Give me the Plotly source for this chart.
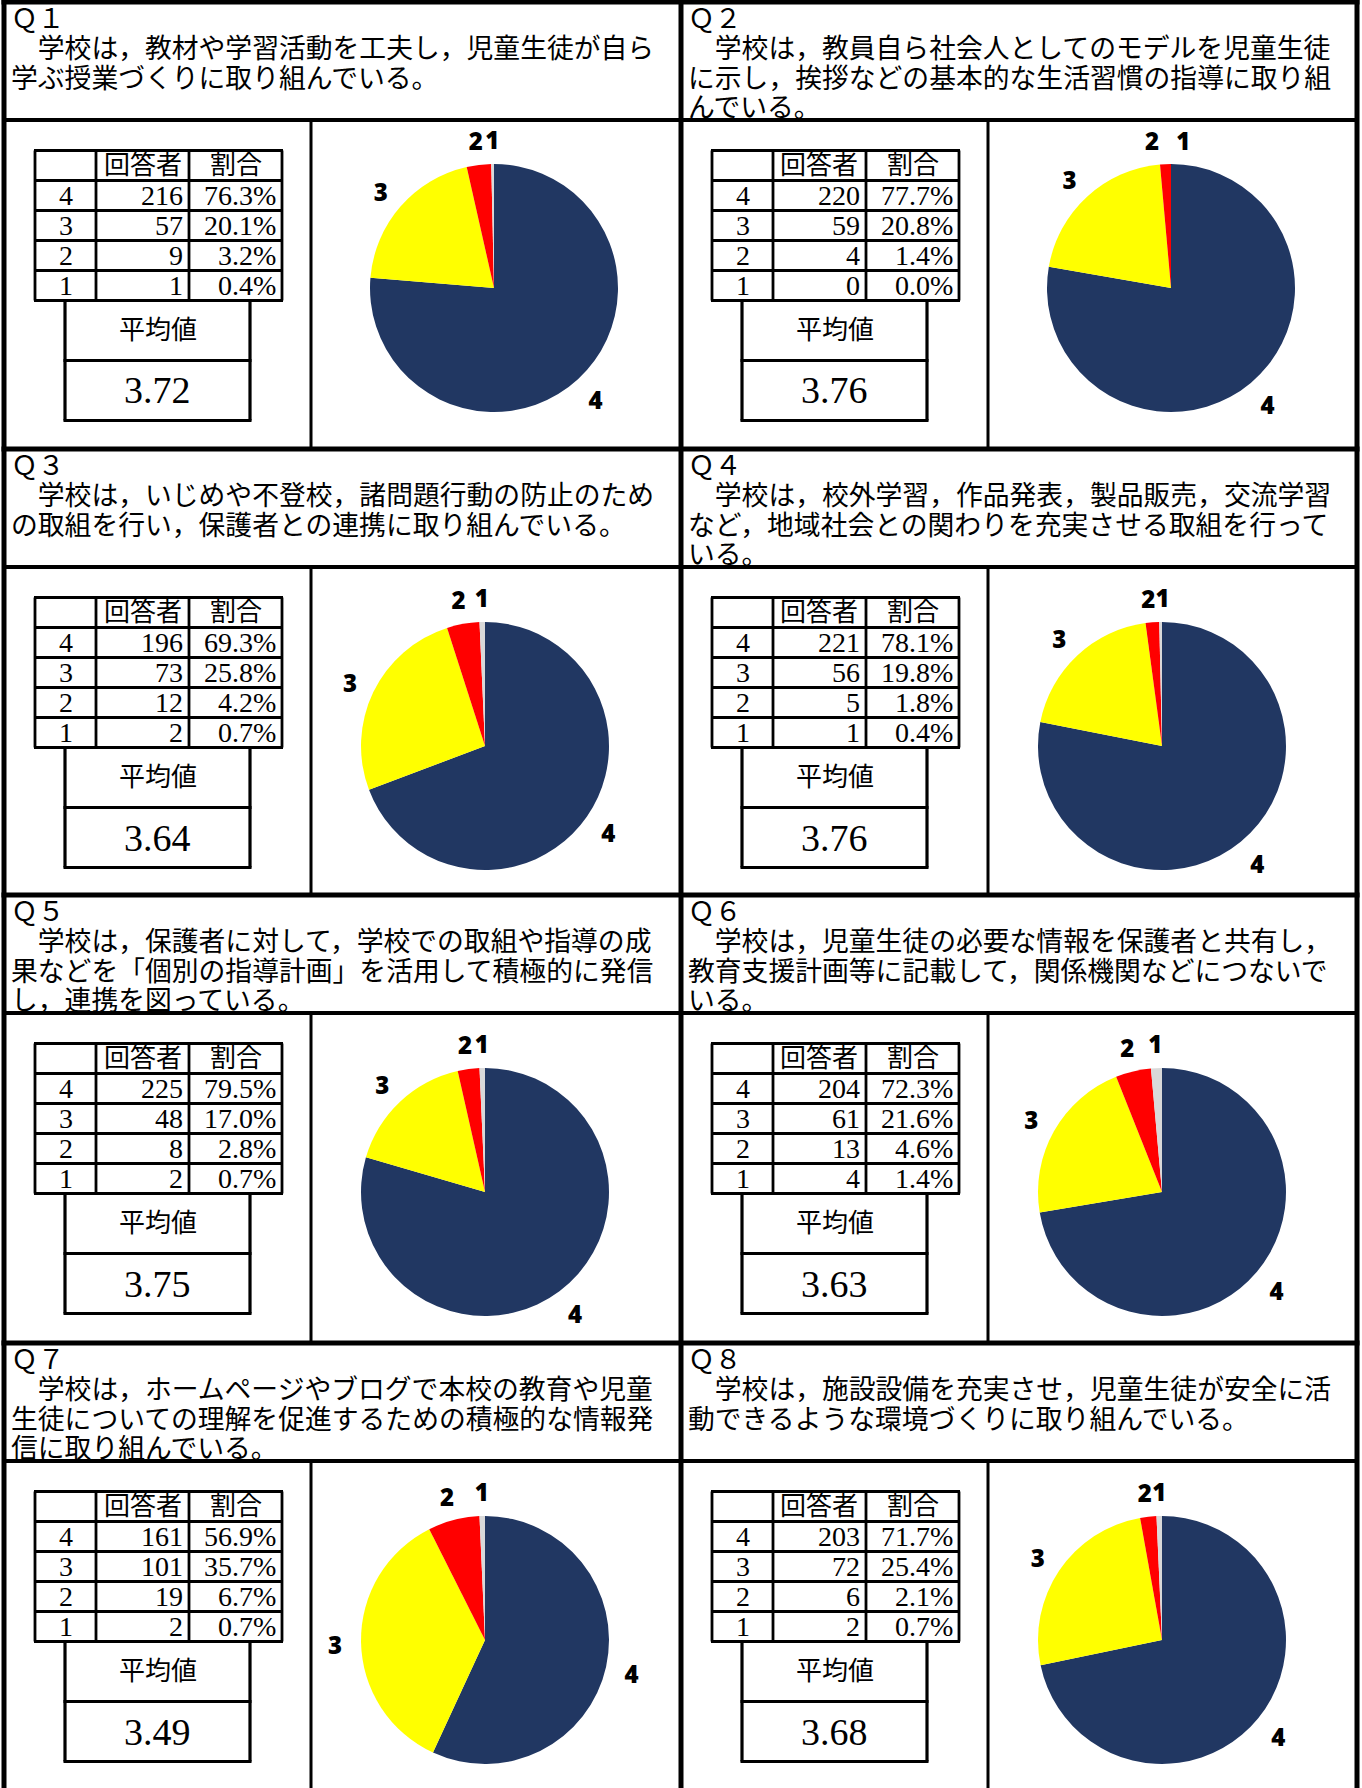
import math
import plotly.graph_objects as go

# ---------------- data ----------------
QUESTION_IDS = ["Ｑ１", "Ｑ２", "Ｑ３", "Ｑ４", "Ｑ５", "Ｑ６", "Ｑ７", "Ｑ８"]
QUESTION_LINES = [
    ["　学校は，教材や学習活動を工夫し，児童生徒が自ら",
     "学ぶ授業づくりに取り組んでいる。"],
    ["　学校は，教員自ら社会人としてのモデルを児童生徒",
     "に示し，挨拶などの基本的な生活習慣の指導に取り組",
     "んでいる。"],
    ["　学校は，いじめや不登校，諸問題行動の防止のため",
     "の取組を行い，保護者との連携に取り組んでいる。"],
    ["　学校は，校外学習，作品発表，製品販売，交流学習",
     "など，地域社会との関わりを充実させる取組を行って",
     "いる。"],
    ["　学校は，保護者に対して，学校での取組や指導の成",
     "果などを「個別の指導計画」を活用して積極的に発信",
     "し，連携を図っている。"],
    ["　学校は，児童生徒の必要な情報を保護者と共有し，",
     "教育支援計画等に記載して，関係機関などにつないで",
     "いる。"],
    ["　学校は，ホームページやブログで本校の教育や児童",
     "生徒についての理解を促進するための積極的な情報発",
     "信に取り組んでいる。"],
    ["　学校は，施設設備を充実させ，児童生徒が安全に活",
     "動できるような環境づくりに取り組んでいる。"],
]
LEVELS = ["4", "3", "2", "1"]
COUNTS = [
    [216, 57, 9, 1],
    [220, 59, 4, 0],
    [196, 73, 12, 2],
    [221, 56, 5, 1],
    [225, 48, 8, 2],
    [204, 61, 13, 4],
    [161, 101, 19, 2],
    [203, 72, 6, 2],
]
PCTS = [
    [76.3, 20.1, 3.2, 0.4],
    [77.7, 20.8, 1.4, 0.0],
    [69.3, 25.8, 4.2, 0.7],
    [78.1, 19.8, 1.8, 0.4],
    [79.5, 17.0, 2.8, 0.7],
    [72.3, 21.6, 4.6, 1.4],
    [56.9, 35.7, 6.7, 0.7],
    [71.7, 25.4, 2.1, 0.7],
]
MEANS = [3.72, 3.76, 3.64, 3.76, 3.75, 3.63, 3.49, 3.68]
COL_HEADERS = ["", "回答者", "割合"]
MEAN_LABEL = "平均値"

# ---------------- style / layout ----------------
SLICE_COLORS = ["#213762", "#FFFF00", "#FF0000", "#D9D9D9"]
W, H = 1362, 1788
ROW_TOP = [2, 449, 895, 1343]
COL_X0 = [2, 679]
HEADER_H = 118
TEXT_FONT = "Liberation Serif, Noto Sans CJK JP, serif"
LABEL_FONT = "Open Sans, Lato, sans-serif"
R = 124          # pie radius (px)
LABEL_R = 150    # label ring radius (px)
LABEL_DY = 5     # visual baseline correction for digits (px)
SEVERE_GAP = 3.0  # labels closer than this (deg) are spread widely
SPREAD = 12.0     # spacing for severe collisions (deg)
MIN_GAP = 5.5     # otherwise keep at least this spacing (deg)


def fx(x):
    return x / W


def fy(y):
    return 1 - y / H


fig = go.Figure()
shapes = []
annotations = []


def line(x0, y0, x1, y1, w):
    shapes.append(dict(type="line", xref="paper", yref="paper",
                       x0=fx(x0), y0=fy(y0), x1=fx(x1), y1=fy(y1),
                       line=dict(color="black", width=w)))


def text(x, y, t, size, xanchor="center"):
    annotations.append(dict(xref="paper", yref="paper", x=fx(x), y=fy(y),
                            xanchor=xanchor, yanchor="middle", showarrow=False,
                            text=t, font=dict(family=TEXT_FONT, size=size, color="black")))


# frame
line(1.5, 2, 1359.5, 2, 5)
line(4, 0, 4, H, 5)
line(681, 0, 681, H, 5)
line(1357, 0, 1357, H, 5)
for i, rt in enumerate(ROW_TOP):
    if i > 0:
        line(1.5, rt, 1359.5, rt, 5)
    line(4, rt + HEADER_H, 1357, rt + HEADER_H, 4)
    bottom = ROW_TOP[i + 1] if i + 1 < len(ROW_TOP) else H
    for x0 in COL_X0:
        line(x0 + 309, rt + HEADER_H, x0 + 309, bottom, 3)

lab_x, lab_y, lab_t = [], [], []

for q in range(8):
    row, col = divmod(q, 2)
    rt = ROW_TOP[row]
    x0 = COL_X0[col]

    # header text
    lines = [QUESTION_IDS[q]] + QUESTION_LINES[q]
    for k, t in enumerate(lines):
        text(x0 + 7, rt + 17 + 29.8 * k, t, 26.8, xanchor="left")

    # frequency table
    ty0 = rt + 148.5
    rh = 30
    cx_edges = [x0 + 33, x0 + 94, x0 + 187, x0 + 280]
    for k in range(6):
        line(cx_edges[0] - 1, ty0 + rh * k, cx_edges[-1] + 1, ty0 + rh * k, 2.8)
    for xe in cx_edges:
        line(xe, ty0, xe, ty0 + rh * 5, 2.8)
    text((cx_edges[1] + cx_edges[2]) / 2, ty0 + rh / 2, COL_HEADERS[1], 26)
    text((cx_edges[2] + cx_edges[3]) / 2, ty0 + rh / 2, COL_HEADERS[2], 26)
    for k in range(4):
        yc = ty0 + rh * (k + 1) + rh / 2
        text((cx_edges[0] + cx_edges[1]) / 2, yc, LEVELS[k], 28)
        text(cx_edges[2] - 4, yc, str(COUNTS[q][k]), 28, xanchor="right")
        text(cx_edges[3] - 4, yc, f"{PCTS[q][k]:.1f}%", 28, xanchor="right")

    # mean box
    my0 = ty0 + rh * 5
    mx0, mx1 = x0 + 63, x0 + 248
    for yy in (my0 + 60, my0 + 120):
        line(mx0 - 1.5, yy, mx1 + 1.5, yy, 3.2)
    for xx in (mx0, mx1):
        line(xx, my0, xx, my0 + 120, 3.2)
    text((mx0 + mx1) / 2, my0 + 30, MEAN_LABEL, 26)
    text((mx0 + mx1) / 2, my0 + 90, f"{MEANS[q]:.2f}", 38)

    # pie
    if row == 0:
        cx, cy = x0 + 492, rt + 286
    else:
        cx, cy = x0 + 483, rt + 297
    dom = dict(x=[fx(cx - R), fx(cx + R)], y=[fy(cy + R), fy(cy - R)])
    fig.add_trace(go.Pie(
        labels=LEVELS, values=COUNTS[q], sort=False, direction="clockwise",
        rotation=0, marker=dict(colors=SLICE_COLORS, line=dict(width=0)),
        textinfo="none", hoverinfo="none", showlegend=False, domain=dom,
    ))

    # data labels at slice mid-angles derived from the counts
    total = sum(COUNTS[q])
    mids = []
    cum = 0
    for v in COUNTS[q]:
        mids.append((cum + v / 2) / total * 360)
        cum += v
    for k in range(len(mids) - 1):
        gap = mids[k + 1] - mids[k]
        target = SPREAD if gap < SEVERE_GAP else MIN_GAP
        if gap < target:
            c = (mids[k] + mids[k + 1]) / 2
            mids[k] = c - target / 2
            mids[k + 1] = c + target / 2
    for k, a in enumerate(mids):
        rad = math.radians(a)
        lab_x.append(cx + LABEL_R * math.sin(rad))
        lab_y.append(cy - LABEL_R * math.cos(rad) + LABEL_DY)
        lab_t.append(LEVELS[k])

fig.add_trace(go.Scatter(
    x=lab_x, y=lab_y, text=lab_t, mode="text", textposition="middle center",
    textfont=dict(family=LABEL_FONT, size=24, color="black", weight=800),
    cliponaxis=False, hoverinfo="skip", showlegend=False,
))

fig.update_layout(width=W, height=H, margin=dict(l=0, r=0, t=0, b=0),
                  paper_bgcolor="white", plot_bgcolor="rgba(0,0,0,0)",
                  xaxis=dict(range=[0, W], visible=False, fixedrange=True),
                  yaxis=dict(range=[H, 0], visible=False, fixedrange=True),
                  shapes=shapes, annotations=annotations, showlegend=False)
fig.write_html("out.html", config={"displayModeBar": False},
               post_script="document.body.style.margin='0';")
